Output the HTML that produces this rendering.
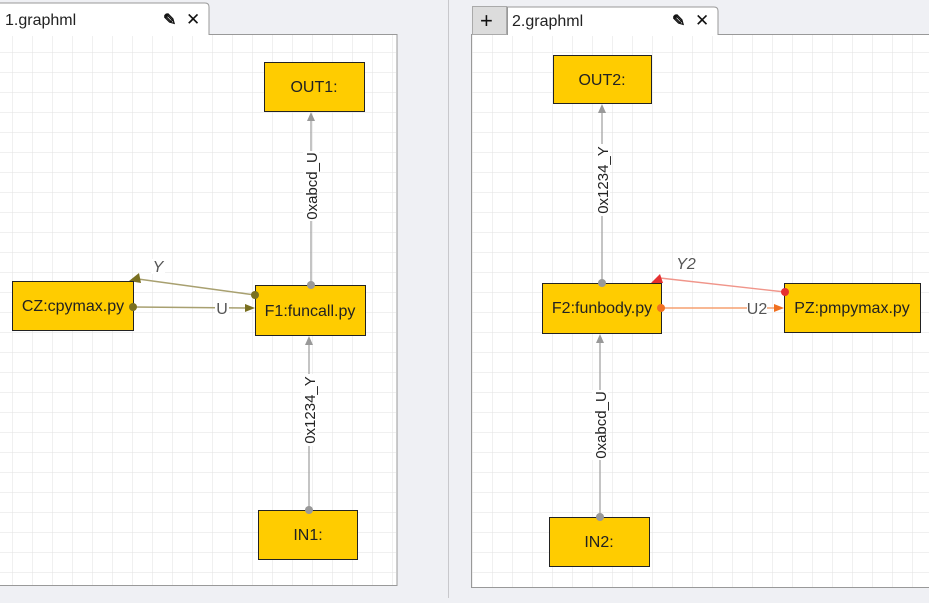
<!DOCTYPE html><html><head><style>
body{margin:0;width:929px;height:598px;background:#eff0f4;overflow:hidden;font-family:"Liberation Sans",Arial,sans-serif}
</style></head><body>
<svg width="929" height="598" xmlns="http://www.w3.org/2000/svg" font-family="Liberation Sans, Arial, sans-serif">
<defs>
<pattern id="g" width="20" height="20" patternUnits="userSpaceOnUse" x="12" y="12">
<path d="M0 0H20M0 0V20" stroke="#e2e2e2" stroke-width="1" fill="none"/></pattern>
</defs>
<rect width="929" height="598" fill="#eff0f4"/>
<line x1="448.5" y1="0" x2="448.5" y2="598" stroke="#c8c8cc"/>
<!-- left panel -->
<rect x="-1" y="34.5" width="398" height="551" fill="#fff" stroke="#999"/>
<rect x="0" y="35" width="396" height="550" fill="url(#g)"/>
<path d="M-1 35V3H205Q209 3 209 7V35" fill="#fff" stroke="#999"/>
<rect x="0" y="33" width="208" height="3" fill="#fff"/>
<text x="5" y="25" font-size="16" fill="#222">1.graphml</text>
<text x="163" y="25" font-size="16" font-weight="bold" fill="#111">✎</text>
<text x="186" y="25" font-size="17" fill="#111">✕</text>
<!-- right panel -->
<rect x="471.5" y="34.5" width="460" height="553" fill="#fff" stroke="#999"/>
<rect x="472" y="35" width="457" height="552" fill="url(#g)"/>
<rect x="472.5" y="6.5" width="34" height="28" fill="#dcdcdc" stroke="#aaa"/>
<text x="480" y="28" font-size="22" fill="#111">+</text>
<path d="M507.5 35V7H714Q718 7 718 11V35" fill="#fff" stroke="#999"/>
<rect x="508" y="33" width="209" height="3" fill="#fff"/>
<text x="512" y="26" font-size="16" fill="#222">2.graphml</text>
<text x="672" y="26" font-size="16" font-weight="bold" fill="#111">✎</text>
<text x="695" y="26" font-size="17" fill="#111">✕</text>

<g font-size="15" fill="#222" text-anchor="middle" stroke-width="1.4">
<!-- left edges -->
<line x1="311" y1="285" x2="311" y2="120" stroke="#aaa"/>
<path d="M311 112L307 121H315Z" fill="#999"/>
<rect x="303" y="151" width="16" height="70" fill="#fff"/>
<text transform="translate(317,186) rotate(-90)" font-size="15">0xabcd_U</text>
<line x1="309" y1="510" x2="309" y2="344" stroke="#aaa"/>
<path d="M309 336L305 345H313Z" fill="#999"/>
<rect x="301" y="374" width="16" height="72" fill="#fff"/>
<text transform="translate(315,410) rotate(-90)" font-size="15">0x1234_Y</text>
<line x1="255" y1="295" x2="138" y2="279" stroke="#a8a070"/>
<path d="M129 281L139 273L141 283Z" fill="#7a7020"/>
<rect x="151" y="259" width="14" height="15" fill="#fff"/>
<text x="158" y="272" font-size="16" font-style="italic" fill="#555">Y</text>
<line x1="133" y1="307" x2="246" y2="308" stroke="#a8a070"/>
<path d="M255 308L245 304V312Z" fill="#7a7020"/>
<rect x="215" y="300" width="14" height="16" fill="#fff"/>
<text x="222" y="314" font-size="16" fill="#555">U</text>
<!-- right edges -->
<line x1="602" y1="283" x2="602" y2="112" stroke="#aaa"/>
<path d="M602 104L598 113H606Z" fill="#999"/>
<rect x="594" y="144" width="16" height="72" fill="#fff"/>
<text transform="translate(608,180) rotate(-90)" font-size="15">0x1234_Y</text>
<line x1="600" y1="517" x2="600" y2="342" stroke="#aaa"/>
<path d="M600 334L596 343H604Z" fill="#999"/>
<rect x="592" y="390" width="16" height="70" fill="#fff"/>
<text transform="translate(606,425) rotate(-90)" font-size="15">0xabcd_U</text>
<line x1="785" y1="292" x2="660" y2="278" stroke="#f0958a"/>
<path d="M651 283L660 274L663 283Z" fill="#e53030"/>
<rect x="676" y="255" width="20" height="16" fill="#fff"/>
<text x="686" y="269" font-size="16" font-style="italic" fill="#555">Y2</text>
<line x1="661" y1="308" x2="775" y2="308" stroke="#f5a070"/>
<path d="M784 308L774 304V312Z" fill="#f07020"/>
<rect x="747" y="300" width="20" height="16" fill="#fff"/>
<text x="757" y="314" font-size="16" fill="#555">U2</text>
</g>
<!-- nodes -->
<g fill="#ffcc00" stroke="#222" stroke-width="1">
<rect x="264.5" y="62.5" width="100" height="49"/>
<rect x="12.5" y="281.5" width="121" height="49"/>
<rect x="255.5" y="285.5" width="110" height="50"/>
<rect x="258.5" y="510.5" width="99" height="49"/>
<rect x="553.5" y="55.5" width="98" height="48"/>
<rect x="542.5" y="283.5" width="119" height="50"/>
<rect x="784.5" y="283.5" width="136" height="49"/>
<rect x="549.5" y="517.5" width="100" height="49"/>
</g>
<circle cx="255" cy="295" r="4" fill="#7a7020"/>
<circle cx="133" cy="307" r="4" fill="#7a7020"/>
<circle cx="311" cy="285" r="4" fill="#999"/>
<circle cx="309" cy="510" r="4" fill="#999"/>
<circle cx="602" cy="283" r="4" fill="#999"/>
<circle cx="600" cy="517" r="4" fill="#999"/>
<circle cx="785" cy="292" r="4" fill="#e53030"/>
<circle cx="661" cy="308" r="4" fill="#f07020"/>
<g font-size="16" fill="#222" text-anchor="middle">
<text x="314" y="92">OUT1:</text>
<text x="73" y="311">CZ:cpymax.py</text>
<text x="310" y="316">F1:funcall.py</text>
<text x="308" y="540">IN1:</text>
<text x="602" y="85">OUT2:</text>
<text x="602" y="313">F2:funbody.py</text>
<text x="852" y="313">PZ:pmpymax.py</text>
<text x="599" y="547">IN2:</text>
</g>
</svg>
</body></html>
